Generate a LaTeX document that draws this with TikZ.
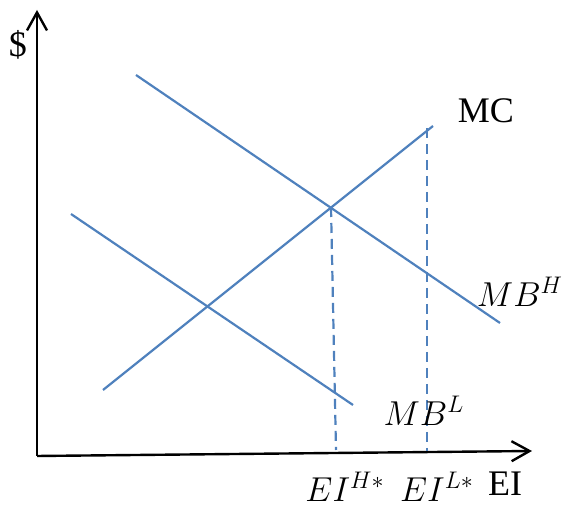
\documentclass[tikz,border=0pt]{standalone}
\usepackage{fontspec}
\setmainfont{Liberation Serif}
\usetikzlibrary{arrows.meta,positioning}
\definecolor{curveblue}{RGB}{79,129,189}
\tikzset{
  axis/.style={-{Straight Barb[length=9pt, width=10pt, line width=1.2pt]}, line width=1.2pt, draw=black},
  curve/.style={draw=curveblue, line width=1.1pt},
  guide/.style={draw=curveblue, line width=1.1pt, dash pattern=on 5pt off 3pt},
  lbl/.style={font=\fontsize{18}{21}\selectfont, inner sep=0pt},
}

\begin{document}
\begin{tikzpicture}[x=0.5pt, y=-0.5pt]
    \useasboundingbox (0,0) rectangle (564,507);
    % axes
    \coordinate (o) at (37,456);
    \coordinate (ytip) at (37,10);
    \coordinate (xtip) at (532,451);
    \draw[axis] (o)--(ytip);\draw[axis] (o)--(xtip);
    % curves
    \coordinate (mbh1) at (136,75);\coordinate (mbh2) at (500,323);
    \coordinate (mbl1) at (71,214);\coordinate (mbl2) at (353,405);
    \coordinate (mc1) at (103,390);\coordinate (mc2) at (433,126);
    \draw[curve] (mbh1)--(mbh2);
    \draw[curve] (mbl1)--(mbl2);
    \draw[curve] (mc1)--(mc2);
    % equilibrium guides
    \coordinate (eh) at (331,207);\coordinate (ehb) at (336,450);
    \coordinate (el) at (427,128);\coordinate (elb) at (427,451);
    \draw[guide] (eh)--(ehb);\draw[guide] (el)--(elb);
    % labels
    \node[lbl] (dollar) at (18,45) {\$};
    \node[lbl] (mc) at (486,111) {MC};
    \node[lbl] (mbh) at (520,292) {$MB^H$};
    \node[lbl] (mbl) at (424,411) {$MB^L$};
    \node[lbl] (ei) at (505,484) {EI};
    \node[lbl] (eih) at (345,487) {$EI^{H*}$};
    \node[lbl] (eil) at (437,487) {$EI^{L*}$};
  \end{tikzpicture}
\end{document}
